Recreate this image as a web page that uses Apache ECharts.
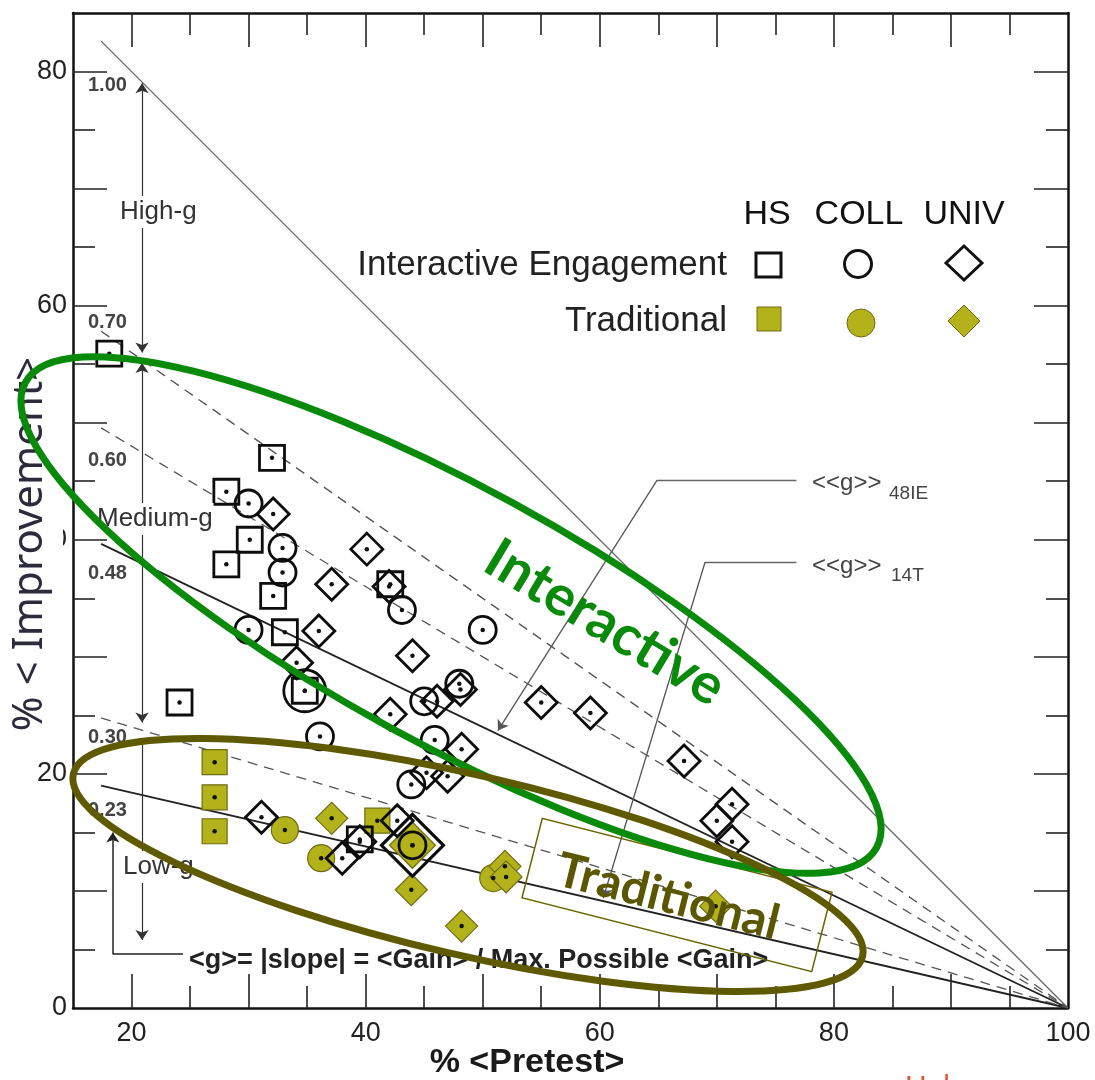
<!DOCTYPE html>
<html>
<head>
<meta charset="utf-8">
<script src="https://cdn.jsdelivr.net/npm/echarts@6/dist/echarts.min.js"></script>
<style>
  html, body { margin: 0; padding: 0; background: #fff; }
  #main { width: 1095px; height: 1080px; }
</style>
</head>
<body>
<div id="main"></div>
<script>
// axis ticks / labels
const xLabels = [20, 40, 60, 80, 100];
const yLabels = [0, 20, 40, 60, 80];
const xMajor = [20, 30, 40, 50, 60, 70, 80, 90];
const xMinor = [25, 35, 45, 55, 65, 75, 85, 95];
const yMajor = [10, 20, 30, 40, 50, 60, 70, 80];
const yMinor = [5, 15, 25, 35, 45, 55, 65, 75];

// lines of constant <g>, all ending at (100, 0)
const gSolid = [1.00, 0.48, 0.23];
const gDashed = [0.70, 0.60, 0.30];
const gStart = 17.4;

// interactive engagement (open)  [pretest %, improvement %]
const ieHS = [[18.1, 55.9], [32.0, 47.0], [28.1, 44.1], [30.1, 40.0], [28.1, 37.9], [32.1, 35.2],
  [33.1, 32.1], [24.1, 26.1], [42.1, 36.2], [34.8, 27.1], [39.5, 14.4]];
const ieCOLL = [[30.0, 43.1], [32.9, 39.3], [32.9, 37.2], [30.0, 32.3], [43.1, 34.0], [50.0, 32.3],
  [36.1, 23.2], [45.9, 22.9], [45.0, 26.2], [48.0, 27.7], [43.9, 19.1], [44.0, 13.9]];
const ieCOLLbig = [[34.8, 27.1]];
const ieUNIV = [[32.1, 42.2], [40.1, 39.2], [37.1, 36.2], [36.0, 32.2], [34.1, 29.5], [44.0, 30.1],
  [42.1, 25.1], [48.2, 22.1], [42.0, 36.0], [46.1, 26.2], [48.1, 27.2], [55.0, 26.1], [59.2, 25.2],
  [67.2, 21.1], [71.3, 17.4], [70.0, 16.0], [71.3, 14.2], [31.1, 16.3], [38.0, 12.8], [39.5, 14.2],
  [42.7, 16.0], [45.2, 20.1], [47.0, 19.8]];
const ieUNIVbig = [[44.0, 13.9]];

// traditional (filled)
const tHS = [[27.1, 21.0], [27.1, 18.0], [27.1, 15.1], [41.0, 16.0]];
const tCOLL = [[33.1, 15.2], [36.2, 12.8], [50.9, 11.1]];
const tUNIV = [[37.1, 16.2], [43.9, 10.1], [48.2, 7.0], [51.9, 12.1], [52.0, 11.2], [69.9, 8.7]];
const tUNIVbig = [[44.0, 13.9]];

// annotation arrows (data coords)
const rangeArrows = [[[20.9, 56.0], [20.9, 79.0]], [[20.9, 55.1], [20.9, 24.4]]];
const lowArrow = [[[20.9, 23.0], [20.9, 5.8]]];
const leaderFlat = [[[76.8, 45.1], [64.9, 45.1]], [[76.8, 38.1], [69.0, 38.1]]];
const leaderArrow = [[[64.9, 45.1], [51.3, 23.7]], [[69.0, 38.1], [60.3, 9.4]]];
const slopeFlat = [[[24.4, 4.6], [18.4, 4.6]]];
const slopeArrow = [[[18.4, 4.6], [18.4, 15.0]]];

const OLIVE = '#b3b21b';
const OLIVE_EDGE = '#6e6d14';
const FONT = 'Liberation Sans';

const chart = echarts.init(document.getElementById('main'));

function xAx(grid, pos, ticks, len, labels) {
  return {
    type: 'value', gridIndex: grid, position: pos, min: 15, max: 100,
    axisLine: { show: grid === 0, onZero: false, lineStyle: { color: '#111', width: 2.5 } },
    axisTick: { inside: true, length: len, customValues: ticks, lineStyle: { color: '#222', width: 1.6 } },
    axisLabel: labels ? { customValues: labels, fontSize: 27, color: '#222', margin: 12, fontFamily: FONT } : { show: false },
    splitLine: { show: false }
  };
}
function yAx(grid, pos, ticks, len, labels) {
  return {
    type: 'value', gridIndex: grid, position: pos, min: 0, max: 85,
    axisLine: { show: grid === 0, onZero: false, lineStyle: { color: '#111', width: 2.5 } },
    axisTick: { inside: true, length: len, customValues: ticks, lineStyle: { color: '#222', width: 1.6 } },
    axisLabel: labels ? { customValues: labels, fontSize: 27, color: '#222', margin: 6, fontFamily: FONT } : { show: false },
    splitLine: { show: false }
  };
}

function gLine(g, dashed) {
  return {
    type: 'line', data: [[gStart, g * (100 - gStart)], [100, 0]], symbol: 'none', silent: true, z: 1,
    lineStyle: {
      color: g === 1 ? '#666' : (dashed ? '#555' : '#222'),
      width: g === 1 ? 1.3 : (dashed ? 1.3 : 1.8),
      type: dashed ? [10, 7] : 'solid'
    }
  };
}
function openS(data, symbol, size, bw) {
  return {
    type: 'scatter', data: data, symbol: symbol, symbolSize: size, z: 4,
    itemStyle: { color: 'rgba(0,0,0,0)', borderColor: '#0d0d0d', borderWidth: bw || 2.8, opacity: 1 }
  };
}
function fillS(data, symbol, size) {
  return {
    type: 'scatter', data: data, symbol: symbol, symbolSize: size, z: 3,
    itemStyle: { color: OLIVE, borderColor: OLIVE_EDGE, borderWidth: 1.2, opacity: 1 }
  };
}
function arrows(list, sym, color, width) {
  return {
    type: 'lines', coordinateSystem: 'cartesian2d', symbol: sym, symbolSize: 10, silent: true, z: 2,
    lineStyle: { color: color, width: width, opacity: 1 },
    data: list.map(c => ({ coords: c }))
  };
}

const allPts = [].concat(ieHS, ieCOLL, ieCOLLbig, ieUNIV, ieUNIVbig, tHS, tCOLL, tUNIV);

const series = []
  .concat(gSolid.map(g => gLine(g, false)))
  .concat(gDashed.map(g => gLine(g, true)))
  .concat([
    arrows(rangeArrows, ['arrow', 'arrow'], '#333', 1.2),
    arrows(lowArrow, ['none', 'arrow'], '#333', 1.2),
    arrows(leaderFlat, ['none', 'none'], '#666', 1.3),
    arrows(leaderArrow, ['none', 'arrow'], '#555', 1.3),
    arrows(slopeFlat, ['none', 'none'], '#222', 1.5),
    arrows(slopeArrow, ['none', 'arrow'], '#222', 1.5),
    fillS(tUNIVbig, 'diamond', 46),
    fillS(tHS, 'rect', 25),
    fillS(tCOLL, 'circle', 27),
    fillS(tUNIV, 'diamond', 32),
    openS(ieUNIVbig, 'diamond', 62, 3.2),
    openS(ieHS, 'rect', 25),
    openS(ieCOLL, 'circle', 27),
    openS(ieCOLLbig, 'circle', 42),
    openS(ieUNIV, 'diamond', 32),
    { type: 'scatter', data: allPts, symbol: 'circle', symbolSize: 4.5, z: 5, itemStyle: { color: '#111', opacity: 1 } }
  ]);

function txt(x, y, text, font, opts) {
  return {
    type: 'text', x: x, y: y, z: 60,
    style: Object.assign({ text: text, font: font, fill: '#333', align: 'left', verticalAlign: 'middle' }, opts || {})
  };
}

const graphic = [
  // y title with white backing (hides the 40 label like the source)
  { type: 'rect', z: 50, shape: { x: 6, y: 352, width: 57, height: 392 }, style: { fill: '#fff' } },
  { type: 'text', x: 30, y: 544, rotation: Math.PI / 2, z: 51,
    style: { text: '% < Improvement>', font: '42px "Noto Sans"', fill: '#2b2b3b', align: 'center', verticalAlign: 'middle' } },
  txt(527, 1063, '% <Pretest>', 'bold 34px ' + FONT, { align: 'center', fill: '#1a1a1a' }),

  // g labels
  txt(88, 85, '1.00', 'bold 20px ' + FONT, { fill: '#444' }),
  txt(88, 322, '0.70', 'bold 20px ' + FONT, { fill: '#444' }),
  txt(88, 460, '0.60', 'bold 20px ' + FONT, { fill: '#444' }),
  txt(88, 573, '0.48', 'bold 20px ' + FONT, { fill: '#444' }),
  txt(88, 737, '0.30', 'bold 20px ' + FONT, { fill: '#444' }),
  txt(88, 810, '0.23', 'bold 20px ' + FONT, { fill: '#444' }),
  txt(119, 212, 'High-g', '26px ' + FONT, { backgroundColor: '#fff', padding: [3, 1] }),
  txt(96, 519, 'Medium-g', '26px ' + FONT, { backgroundColor: '#fff', padding: [3, 1] }),
  txt(122, 867, 'Low-g', '26px ' + FONT, { backgroundColor: '#fff', padding: [3, 1] }),
  txt(189, 961, '<g>= |slope| = <Gain> / Max. Possible <Gain>', 'bold 27px ' + FONT, { fill: '#222' }),

  // leader labels
  txt(812, 483, '<<g>>', '24px ' + FONT, { fill: '#444' }),
  txt(889, 494, '48IE', '19px ' + FONT, { fill: '#444' }),
  txt(812, 566, '<<g>>', '24px ' + FONT, { fill: '#444' }),
  txt(891, 576, '14T', '19px ' + FONT, { fill: '#444' }),

  // legend
  txt(767, 215, 'HS', '34px ' + FONT, { align: 'center', fill: '#111' }),
  txt(859, 215, 'COLL', '34px ' + FONT, { align: 'center', fill: '#111' }),
  txt(964, 215, 'UNIV', '34px ' + FONT, { align: 'center', fill: '#111' }),
  txt(727, 265, 'Interactive Engagement', '35px ' + FONT, { align: 'right', fill: '#222' }),
  txt(727, 321, 'Traditional', '35px ' + FONT, { align: 'right', fill: '#222' }),
  { type: 'rect', z: 60, shape: { x: 756, y: 253, width: 25, height: 24 }, style: { fill: '#fff', stroke: '#111', lineWidth: 3 } },
  { type: 'circle', z: 60, shape: { cx: 858, cy: 264, r: 13.5 }, style: { fill: '#fff', stroke: '#111', lineWidth: 3 } },
  { type: 'polygon', z: 60, shape: { points: [[964, 246], [982, 263], [964, 280], [946, 263]] }, style: { fill: '#fff', stroke: '#111', lineWidth: 3 } },
  { type: 'rect', z: 60, shape: { x: 757, y: 307, width: 24, height: 24 }, style: { fill: OLIVE, stroke: OLIVE_EDGE, lineWidth: 1 } },
  { type: 'circle', z: 60, shape: { cx: 861, cy: 323, r: 14 }, style: { fill: OLIVE, stroke: OLIVE_EDGE, lineWidth: 1 } },
  { type: 'polygon', z: 60, shape: { points: [[964, 305], [980, 321], [964, 337], [948, 321]] }, style: { fill: OLIVE, stroke: OLIVE_EDGE, lineWidth: 1 } },

  // highlight ellipses and their captions
  { type: 'ellipse', z: 100, x: 451, y: 615, rotation: -0.5, shape: { cx: 0, cy: 0, rx: 485, ry: 128 },
    style: { fill: 'none', stroke: '#0a8a0a', lineWidth: 7 } },
  { type: 'ellipse', z: 101, x: 468, y: 865, rotation: -0.227, shape: { cx: 0, cy: 0, rx: 405, ry: 90 },
    style: { fill: 'none', stroke: '#5f5a00', lineWidth: 7 } },
  { type: 'text', z: 102, x: 605, y: 623, rotation: -0.54,
    style: { text: 'Interactive', font: 'bold 56px Lato', fill: '#0a8a0a', align: 'center', verticalAlign: 'middle' } },
  { type: 'rect', z: 99, x: 677, y: 895, rotation: -0.25, shape: { x: -149.5, y: -41, width: 299, height: 82 },
    style: { fill: 'none', stroke: '#6b6300', lineWidth: 1.5 } },
  { type: 'text', z: 102, x: 668, y: 897, rotation: -0.244,
    style: { text: 'Traditional', font: 'bold 48px Lato', fill: '#5b5600', align: 'center', verticalAlign: 'middle' } },

  txt(905, 1088, 'Hake', '30px ' + FONT, { fill: '#e05a3a' })
];

const option = {
  animation: false,
  grid: [
    { left: 73, top: 13, right: 27, bottom: 72 },
    { left: 73, top: 13, right: 27, bottom: 72 }
  ],
  xAxis: [
    xAx(0, 'bottom', xMajor, 34, xLabels),
    xAx(0, 'top', xMajor, 34, null),
    xAx(1, 'bottom', xMinor, 22, null),
    xAx(1, 'top', xMinor, 22, null)
  ],
  yAxis: [
    yAx(0, 'left', yMajor, 34, yLabels),
    yAx(0, 'right', yMajor, 34, null),
    yAx(1, 'left', yMinor, 22, null),
    yAx(1, 'right', yMinor, 22, null)
  ],
  series: series,
  graphic: graphic
};

chart.setOption(option);
</script>
</body>
</html>
